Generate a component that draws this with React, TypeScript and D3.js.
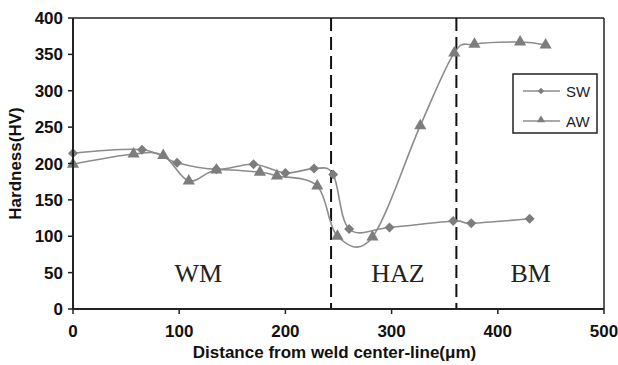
import React from 'react';
import * as d3 from 'd3';

// hardness profile across the weld
const swX = [0, 65, 98, 135, 170, 200, 227, 245, 260, 298, 358, 375, 430];
const swY = [214, 219, 201, 192, 199, 187, 193, 185, 110, 112, 121, 118, 124];
const awX = [0, 57, 85, 109, 135, 176, 192, 230, 249, 282, 327, 359, 378, 421, 445];
const awY = [199, 213, 211, 176, 191, 188, 183, 169, 100, 99, 252, 352, 364, 367, 363];

const xTicks = [0, 100, 200, 300, 400, 500];
const yTicks = [0, 50, 100, 150, 200, 250, 300, 350, 400];
const zoneBounds = [243, 361];
const zoneNames = ['WM', 'HAZ', 'BM'];
const zoneCenters = [118, 306, 431];
const zoneLabelY = 37;

const W = 618, H = 365;
const m = { left: 73, right: 14, top: 18, bottom: 56 };
const LINE = '#8c8c8c';
const MARK = '#7d7d7d';
const AXIS = '#222';
const SANS = '"Liberation Sans", Arial, sans-serif';

type P = { x: number; y: number };

export default function App() {
  const x = d3.scaleLinear().domain([0, 500]).range([m.left, W - m.right]);
  const y = d3.scaleLinear().domain([0, 400]).range([H - m.bottom, m.top]);
  const sw: P[] = swX.map((v, i) => ({ x: v, y: swY[i] }));
  const aw: P[] = awX.map((v, i) => ({ x: v, y: awY[i] }));

  // excel-style smoothing ~ uniform catmull-rom
  const line = d3.line<P>().x(d => x(d.x)).y(d => y(d.y)).curve(d3.curveCatmullRom.alpha(0));
  const diamond = d3.symbol(d3.symbolSquare, 50)()!;
  const tri = d3.symbol(d3.symbolTriangle, 64)()!;
  const diamondSm = d3.symbol(d3.symbolSquare, 20)()!;
  const triSm = d3.symbol(d3.symbolTriangle, 28)()!;

  const x0 = x(0), x1 = x(500), y0 = y(0), y1 = y(400);

  return (
    <svg width={W} height={H} style={{ position: 'absolute', left: 0, top: 0, background: '#fff' }}>
      {/* frame */}
      <line x1={x0} x2={x1} y1={y1} y2={y1} stroke={AXIS} strokeWidth={1.5} />
      <line x1={x1} x2={x1} y1={y1} y2={y0} stroke={AXIS} strokeWidth={1.5} />

      {/* zone boundaries */}
      {zoneBounds.map(b => (
        <line key={b} x1={x(b)} x2={x(b)} y1={y1} y2={y0} stroke="#111" strokeWidth={2} strokeDasharray="13,6" />
      ))}
      {zoneNames.map((n, i) => (
        <text key={n} x={x(zoneCenters[i])} y={y(zoneLabelY)} textAnchor="middle"
          fontFamily='"Liberation Serif", "Times New Roman", serif' fontSize={26} fill="#222">{n}</text>
      ))}

      {/* series */}
      <path d={line(sw)!} fill="none" stroke={LINE} strokeWidth={1.6} />
      <path d={line(aw)!} fill="none" stroke={LINE} strokeWidth={1.6} />
      {sw.map((d, i) => (
        <path key={'s' + i} d={diamond} transform={`translate(${x(d.x)},${y(d.y)}) rotate(45)`} fill={MARK} />
      ))}
      {aw.map((d, i) => (
        <path key={'a' + i} d={tri} transform={`translate(${x(d.x)},${y(d.y)})`} fill={MARK} />
      ))}

      {/* axes */}
      <line x1={x0} x2={x0} y1={y1} y2={y0} stroke={AXIS} strokeWidth={2} />
      <line x1={x0} x2={x1} y1={y0} y2={y0} stroke={AXIS} strokeWidth={2} />
      {yTicks.map(t => (
        <g key={'y' + t}>
          <line x1={x0 - 5} x2={x0} y1={y(t)} y2={y(t)} stroke={AXIS} strokeWidth={1.5} />
          <text x={x0 - 10} y={y(t)} dy="0.36em" textAnchor="end" fontFamily={SANS} fontWeight="bold" fontSize={17} fill="#111">{t}</text>
        </g>
      ))}
      {xTicks.map(t => (
        <g key={'x' + t}>
          <line x1={x(t)} x2={x(t)} y1={y0} y2={y0 + 5} stroke={AXIS} strokeWidth={1.5} />
          <text x={x(t)} y={y0 + 28} textAnchor="middle" fontFamily={SANS} fontWeight="bold" fontSize={17} fill="#111">{t}</text>
        </g>
      ))}
      <text x={(x0 + x1) / 2 - 4} y={358} textAnchor="middle" fontFamily={SANS} fontWeight="bold" fontSize={17} fill="#111">
        Distance from weld center-line(μm)
      </text>
      <text transform={`translate(21,${(y0 + y1) / 2}) rotate(-90)`} textAnchor="middle" fontFamily={SANS} fontWeight="bold" fontSize={17} fill="#111">
        Hardness(HV)
      </text>

      {/* legend */}
      <g transform="translate(513,74)">
        <rect x={0} y={0} width={84} height={59} fill="#fff" stroke={AXIS} strokeWidth={1.5} />
        <line x1={10} x2={47} y1={17} y2={17} stroke={LINE} strokeWidth={1.4} />
        <path d={diamondSm} transform="translate(28,17) rotate(45)" fill={MARK} />
        <text x={53} y={22.5} fontFamily={SANS} fontSize={15} fill="#222">SW</text>
        <line x1={10} x2={47} y1={47} y2={47} stroke={LINE} strokeWidth={1.4} />
        <path d={triSm} transform="translate(28,46)" fill={MARK} />
        <text x={53} y={52.5} fontFamily={SANS} fontSize={15} fill="#222">AW</text>
      </g>
    </svg>
  );
}
